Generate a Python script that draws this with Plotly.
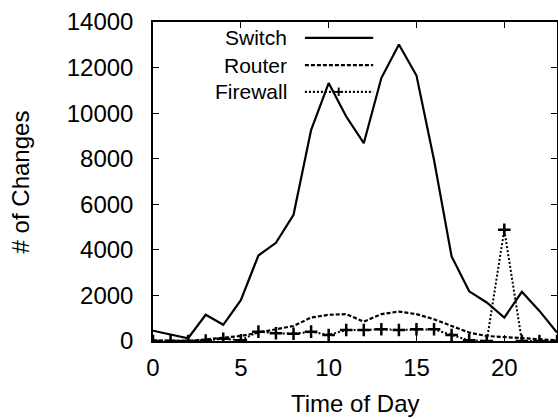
import plotly.graph_objects as go

hours = list(range(24))
switch = [450, 300, 120, 1150, 710, 1790, 3750, 4310, 5540, 9260, 11320, 9850,
          8680, 11540, 13010, 11650, 7940, 3710, 2180, 1690, 1030, 2160, 1320, 370]
router = [30, 20, 0, 70, 150, 220, 370, 515, 660, 1030, 1150, 1180,
          850, 1180, 1290, 1180, 955, 660, 370, 220, 175, 118, 70, 30]
firewall = [0, 0, 0, 20, 100, 30, 410, 340, 320, 410, 265, 485,
            485, 515, 485, 515, 515, 265, 30, 0, 4880, 0, 0, 0]

x_ticks = [0, 5, 10, 15, 20]
y_ticks = [0, 2000, 4000, 6000, 8000, 10000, 12000, 14000]
y_ticktext = [str(v) for v in y_ticks]
legend_names = ["Switch", "Router", "Firewall"]

FONT = "Liberation Sans, Arial, Helvetica, sans-serif"
FS = 24
LFS = 21

fig = go.Figure()
fig.add_trace(go.Scatter(x=hours, y=switch, mode="lines", name="Switch",
                         line=dict(color="black", width=2.2)))
fig.add_trace(go.Scatter(x=hours, y=router, mode="lines", name="Router",
                         line=dict(color="black", width=2.2, dash="4px,2px")))
fig.add_trace(go.Scatter(x=hours, y=firewall, mode="lines+markers", name="Firewall",
                         line=dict(color="black", width=2, dash="2px,2px"),
                         marker=dict(symbol="cross-thin", size=9,
                                     line=dict(color="black", width=2.5))))

# manual gnuplot-style key (text left, sample right)
rows = [0.950, 0.865, 0.781]
dashes = ["solid", "4px,2px", "2px,2px"]
for name, yy, d in zip(legend_names, rows, dashes):
    fig.add_annotation(x=0.334, y=yy, xref="paper", yref="paper", text=name,
                       showarrow=False, xanchor="right", yanchor="middle",
                       borderpad=0,
                       font=dict(family=FONT, size=LFS, color="black"))
    fig.add_shape(type="line", xref="paper", yref="paper", x0=0.376, x1=0.545,
                  y0=yy, y1=yy, line=dict(color="black", width=2.2, dash=d))
fig.add_annotation(x=0.46, y=rows[2], xref="paper", yref="paper", text="<b>+</b>",
                   showarrow=False, xanchor="center", yanchor="middle", borderpad=0,
                   font=dict(family=FONT, size=16, color="black"))

# axis titles
fig.add_annotation(x=0.5, y=-0.195, xref="paper", yref="paper", text="Time of Day",
                   showarrow=False, xanchor="center", yanchor="middle",
                   font=dict(family=FONT, size=FS, color="black"))
fig.add_annotation(x=-0.327, y=0.5, xref="paper", yref="paper", text="# of Changes",
                   showarrow=False, xanchor="center", yanchor="middle", textangle=-90,
                   font=dict(family=FONT, size=FS, color="black"))

fig.update_layout(
    width=558, height=419,
    margin=dict(l=153, r=1, t=22, b=78, autoexpand=False),
    plot_bgcolor="white", paper_bgcolor="white",
    showlegend=False,
    font=dict(family=FONT, size=FS, color="black"),
)
fig.update_xaxes(range=[0, 23], tickvals=x_ticks, ticks="inside", ticklen=6,
                 tickwidth=1.2, tickcolor="black", showline=True, linecolor="black",
                 linewidth=1.5, mirror="ticks", showgrid=False, zeroline=False,
                 ticklabelstandoff=4, automargin=False)
fig.update_yaxes(range=[0, 14000], tickvals=y_ticks, ticktext=y_ticktext,
                 ticks="inside", ticklen=6,
                 tickwidth=1.2, tickcolor="black", showline=True, linecolor="black",
                 linewidth=1.5, mirror="ticks", showgrid=False, zeroline=False,
                 ticklabelstandoff=13, automargin=False)

fig.write_html("out.html", config={"displayModeBar": False},
               post_script="document.body.style.margin='0';document.body.style.overflow='hidden';")
